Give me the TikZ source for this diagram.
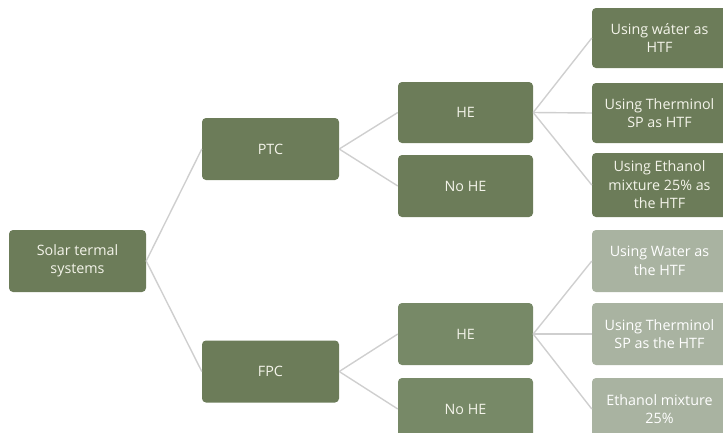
\documentclass[tikz,border=0pt]{standalone}
\usepackage{fontspec}
\setmainfont{Open Sans}
\definecolor{dkgreen}{HTML}{6C7C59}
\definecolor{mdgreen}{HTML}{778967}
\definecolor{ltgreen}{HTML}{A9B3A1}
\definecolor{linegray}{HTML}{CFCFCF}
\definecolor{boxtext}{HTML}{F4F4EA}
\begin{document}
\begin{tikzpicture}[x=1pt,y=-1pt,
  box/.style={rectangle, rounded corners=4pt, draw=none, text=boxtext,
    minimum width=137pt, minimum height=62pt, align=center, inner sep=1pt,
    font=\fontsize{14.3}{18.5}\selectfont},
  dbox/.style={box, fill=dkgreen},
  mbox/.style={box, fill=mdgreen},
  lbox/.style={box, fill=ltgreen, text=white},
  conn/.style={draw=linegray, line width=1.4pt}]
\useasboundingbox (0,0) rectangle (723,432);
\clip (0,0) rectangle (723,432);
\node[dbox] (root) at (77.5,261) {Solar termal\\systems};
\node[dbox] (ptc) at (270.5,149) {PTC};
\node[dbox] (fpc) at (270.5,371.5) {FPC};
\node[dbox, minimum width=135pt, minimum height=61pt] (he1) at (465.5,112.5) {HE};
\node[dbox, minimum width=135pt] (nohe1) at (465.5,186) {No HE};
\node[mbox, minimum width=135pt] (he2) at (465.5,334) {HE};
\node[mbox, minimum width=135pt] (nohe2) at (465.5,409) {No HE};
\node[dbox, minimum width=135pt, minimum height=60pt] (l1) at (659.5,38) {Using wáter as\\HTF};
\node[dbox, minimum width=135pt, minimum height=60pt] (l2) at (659.5,113) {Using Therminol\\SP as HTF};
\node[dbox, minimum width=135pt, minimum height=64pt] (l3) at (659.5,185) {Using Ethanol\\mixture 25\% as\\the HTF};
\node[lbox, minimum width=135pt] (l4) at (659.5,261) {Using Water as\\the HTF};
\node[lbox, minimum width=135pt] (l5) at (659.5,334) {Using Therminol\\SP as the HTF};
\node[lbox, minimum width=135pt] (l6) at (659.5,409) {Ethanol mixture\\25\%};
\draw[conn] (root.east) -- (ptc.west);
\draw[conn] (root.east) -- (fpc.west);
\draw[conn] (ptc.east) -- (he1.west);
\draw[conn] (ptc.east) -- (nohe1.west);
\draw[conn] (fpc.east) -- (he2.west);
\draw[conn] (fpc.east) -- (nohe2.west);
\draw[conn] (he1.east) -- (l1.west);
\draw[conn] (he1.east) -- (l2.west);
\draw[conn] (he1.east) -- (l3.west);
\draw[conn] (he2.east) -- (l4.west);
\draw[conn] (he2.east) -- (l5.west);
\draw[conn] (he2.east) -- (l6.west);
\end{tikzpicture}
\end{document}
